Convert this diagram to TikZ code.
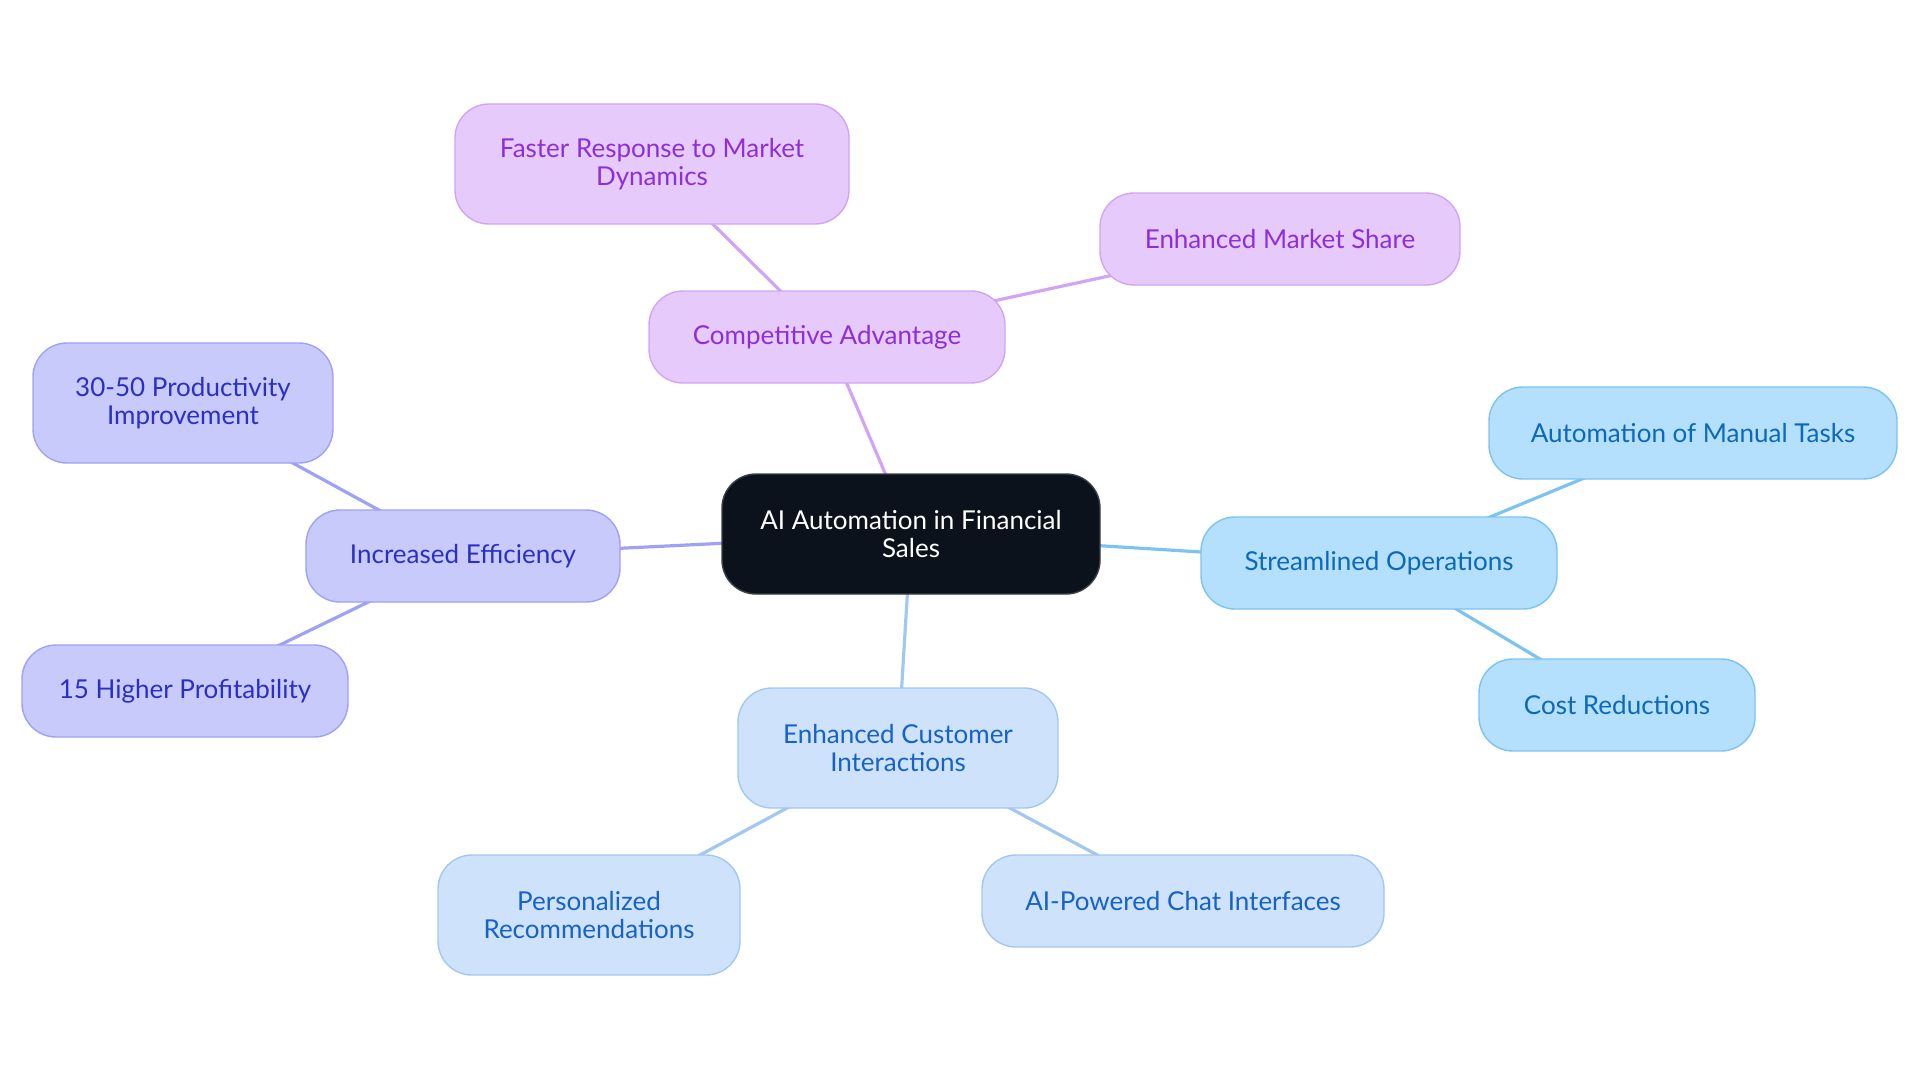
\documentclass[tikz,border=0pt]{standalone}
\usepackage{fontspec}
\setmainfont{Lato}
\usetikzlibrary{positioning,backgrounds}
\definecolor{rootF}{HTML}{0C121B}
\definecolor{rootD}{HTML}{3A3F46}
\definecolor{violF}{HTML}{E7CAFC}
\definecolor{violD}{HTML}{D1A4F4}
\definecolor{violT}{HTML}{8C2FD9}
\definecolor{indF}{HTML}{C8CAFC}
\definecolor{indD}{HTML}{9EA2F4}
\definecolor{indT}{HTML}{2B2FC4}
\definecolor{skyF}{HTML}{B4E0FD}
\definecolor{skyD}{HTML}{7DC3F1}
\definecolor{skyT}{HTML}{0B69B8}
\definecolor{paleF}{HTML}{CEE3FB}
\definecolor{paleD}{HTML}{A2C8F1}
\definecolor{paleT}{HTML}{1662C6}
\newcommand{\txtf}{\fontsize{13}{14}\selectfont}

\begin{document}
\begin{tikzpicture}[x=0.5pt,y=-0.5pt,
  box/.style={rounded corners=17pt, line width=0.7pt, align=center, inner sep=0pt, font=\txtf},
  rootbox/.style={box, fill=rootF, draw=rootD, text=white},
  violbox/.style={box, fill=violF, draw=violD, text=violT},
  indbox/.style={box, fill=indF, draw=indD, text=indT},
  skybox/.style={box, fill=skyF, draw=skyD, text=skyT},
  palebox/.style={box, fill=paleF, draw=paleD, text=paleT},
  violln/.style={line width=1.6pt, draw=violD},
  indln/.style={line width=1.6pt, draw=indD},
  skyln/.style={line width=1.6pt, draw=skyD},
  paleln/.style={line width=1.6pt, draw=paleD}]
\useasboundingbox (0,0) rectangle (1920,1083);

% Root
\node[rootbox, minimum width=189pt, minimum height=60pt] (root) at (911,534) {AI Automation in Financial\\Sales};

% Competitive Advantage
\node[violbox, minimum width=178pt, minimum height=46pt] (comp) at (827,337) {Competitive Advantage};
\node[violbox, minimum width=197pt, minimum height=60pt] (faster) at (652,164) {Faster Response to Market\\Dynamics};
\node[violbox, minimum width=180pt, minimum height=46pt] (share) at (1280,239) {Enhanced Market Share};

% Increased Efficiency
\node[indbox, minimum width=157pt, minimum height=46pt] (eff) at (463,556) {Increased Efficiency};
\node[indbox, minimum width=150pt, minimum height=60pt] (prod) at (183,403) {30-50 Productivity\\Improvement};
\node[indbox, minimum width=163pt, minimum height=46pt] (profit) at (185,691) {15 Higher Profitability};

% Streamlined Operations
\node[skybox, minimum width=178pt, minimum height=46pt] (stream) at (1379,563) {Streamlined Operations};
\node[skybox, minimum width=204pt, minimum height=46pt] (manual) at (1693,433) {Automation of Manual Tasks};
\node[skybox, minimum width=138pt, minimum height=46pt] (cost) at (1617,705) {Cost Reductions};

% Enhanced Customer Interactions
\node[palebox, minimum width=160pt, minimum height=60pt] (cust) at (898,748) {Enhanced Customer\\Interactions};
\node[palebox, minimum width=151pt, minimum height=60pt] (pers) at (589,915) {Personalized\\Recommendations};
\node[palebox, minimum width=201pt, minimum height=46pt] (chat) at (1183,901) {AI-Powered Chat Interfaces};

% Links (centre to centre, behind the boxes)
\begin{scope}[on background layer]
\draw[violln] (root.center) -- (comp.center);
\draw[violln] (comp.center) -- (faster.center);
\draw[violln] (comp.center) -- (share.center);
\draw[indln] (root.center) -- (eff.center);
\draw[indln] (eff.center) -- (prod.center);
\draw[indln] (eff.center) -- (profit.center);
\draw[skyln] (root.center) -- (stream.center);
\draw[skyln] (stream.center) -- (manual.center);
\draw[skyln] (stream.center) -- (cost.center);
\draw[paleln] (root.center) -- (cust.center);
\draw[paleln] (cust.center) -- (pers.center);
\draw[paleln] (cust.center) -- (chat.center);
\end{scope}
\end{tikzpicture}
\end{document}
